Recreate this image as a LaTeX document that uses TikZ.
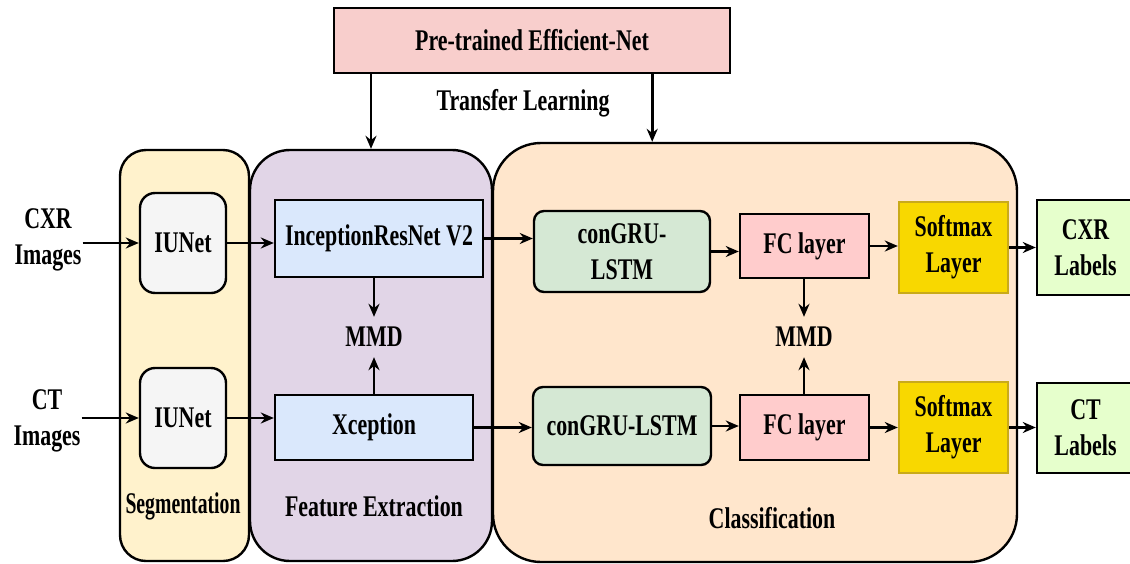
\documentclass[tikz,border=0pt]{standalone}
\usepackage{fontspec}
\setmainfont[FakeStretch=0.73]{Liberation Serif}
\usetikzlibrary{arrows.meta,calc}
\definecolor{cPre}{HTML}{F8CECC}
\definecolor{cSeg}{HTML}{FFF2CC}
\definecolor{cFe}{HTML}{E1D5E7}
\definecolor{cCls}{HTML}{FFE6CC}
\definecolor{cIU}{HTML}{F5F5F5}
\definecolor{cBlue}{HTML}{DAE8FC}
\definecolor{cGreen}{HTML}{D5E8D4}
\definecolor{cFC}{HTML}{FFCCCC}
\definecolor{cSm}{HTML}{F8D800}
\definecolor{cSmB}{HTML}{C9AA1A}
\definecolor{cLab}{HTML}{E6FFCC}
\tikzset{
  every node/.style={font=\fontsize{30}{36}\selectfont\bfseries, align=center, inner sep=1pt},
  box/.style={draw=black, line width=2.4pt},
  rbox/.style={box, rounded corners=#1},
  arr/.style={line width=2.6pt, -{Stealth[length=13pt,width=11pt]}},
  txt/.style={},
}
\begin{document}
\begin{tikzpicture}[x=1pt,y=-1pt]
\useasboundingbox (0,0) rectangle (1130,563);
% containers
\node[rbox=26pt, fill=cSeg, minimum width=129pt, minimum height=411pt] (seg) at (184.5,355.5) {};
\node[rbox=40pt, fill=cFe, minimum width=242pt, minimum height=411pt] (fe) at (371,355.5) {};
\node[rbox=48pt, fill=cCls, minimum width=524pt, minimum height=419pt] (cls) at (755,352.5) {};
\node[box, fill=cPre, minimum width=396pt, minimum height=65pt] (pre) at (532,40.5) {Pre-trained Efficient-Net};
% section titles
\node[txt] (tl) at (523,103) {Transfer Learning};
\node[txt] (segt) at (183,506) {\scalebox{0.9}[1]{Segmentation}};
\node[txt] (fet) at (374,506) {Feature Extraction};
\node[txt] (clst) at (772,518) {Classification};
% inputs
\node[txt] (img1) at (48,240) {CXR\\Images};
\node[txt] (img2) at (47,421) {CT\\Images};
% blocks
\node[rbox=15pt, fill=cIU, minimum width=86pt, minimum height=100pt] (iu1) at (183,243) {IUNet};
\node[rbox=15pt, fill=cIU, minimum width=86pt, minimum height=100pt] (iu2) at (183,418) {IUNet};
\node[box, fill=cBlue, minimum width=208pt, minimum height=77pt] (inc) at (379,238.5) {InceptionResNet V2};
\node[box, fill=cBlue, minimum width=198pt, minimum height=65pt] (xce) at (374,427.5) {Xception};
\node[txt, minimum height=40pt] (mmd1) at (374,337) {MMD};
\node[rbox=10pt, fill=cGreen, minimum width=176pt, minimum height=81pt] (cg1) at (622,251.5) {conGRU-\\LSTM};
\node[rbox=10pt, fill=cGreen, minimum width=178pt, minimum height=78pt] (cg2) at (622,426) {conGRU-LSTM};
\node[box, fill=cFC, minimum width=129pt, minimum height=64pt] (fc1) at (804.5,246) {FC layer};
\node[box, fill=cFC, minimum width=129pt, minimum height=65pt] (fc2) at (804.5,427.5) {FC layer};
\node[txt, minimum height=40pt] (mmd2) at (804,337) {MMD};
\node[draw=cSmB, line width=2.4pt, fill=cSm, minimum width=109pt, minimum height=91pt] (sm1) at (953.5,247.5) {Softmax\\Layer};
\node[draw=cSmB, line width=2.4pt, fill=cSm, minimum width=109pt, minimum height=91pt] (sm2) at (953.5,427.5) {Softmax\\Layer};
\node[box, fill=cLab, minimum width=97pt, minimum height=95pt, text width=90pt] (lb1) at (1085.5,247.5) {CXR\\Labels};
\node[box, fill=cLab, minimum width=97pt, minimum height=90pt, text width=90pt] (lb2) at (1085.5,428) {CT\\Labels};
% transfer learning arrows
\draw[arr] (pre.south -| fe.north) -- (fe.north);
\coordinate (tr) at ([xshift=-79pt]pre.south east);
\draw[arr] (tr) -- (tr |- cls.north);
% top row
\draw[arr] (img1.east |- iu1.west) -- (iu1.west);
\draw[arr] (iu1.east) -- (iu1.east -| inc.west);
\draw[arr] (inc.east) -- (inc.east -| cg1.west);
\draw[arr] (cg1.east) -- (cg1.east -| fc1.west);
\draw[arr] (fc1.east) -- (fc1.east -| sm1.west);
\draw[arr] (sm1.east) -- (sm1.east -| lb1.west);
% bottom row
\draw[arr] (img2.east |- iu2.west) -- (iu2.west);
\draw[arr] (iu2.east) -- (iu2.east -| xce.west);
\draw[arr] (xce.east) -- (xce.east -| cg2.west);
\draw[arr] (cg2.east) -- (cg2.east -| fc2.west);
\draw[arr] (fc2.east) -- (fc2.east -| sm2.west);
\draw[arr] (sm2.east) -- (sm2.east -| lb2.west);
% MMD
\draw[arr] (mmd1.north |- inc.south) -- (mmd1.north);
\draw[arr] (mmd1.south |- xce.north) -- (mmd1.south);
\draw[arr] (mmd2.north |- fc1.south) -- (mmd2.north);
\draw[arr] (mmd2.south |- fc2.north) -- (mmd2.south);
\end{tikzpicture}
\end{document}
